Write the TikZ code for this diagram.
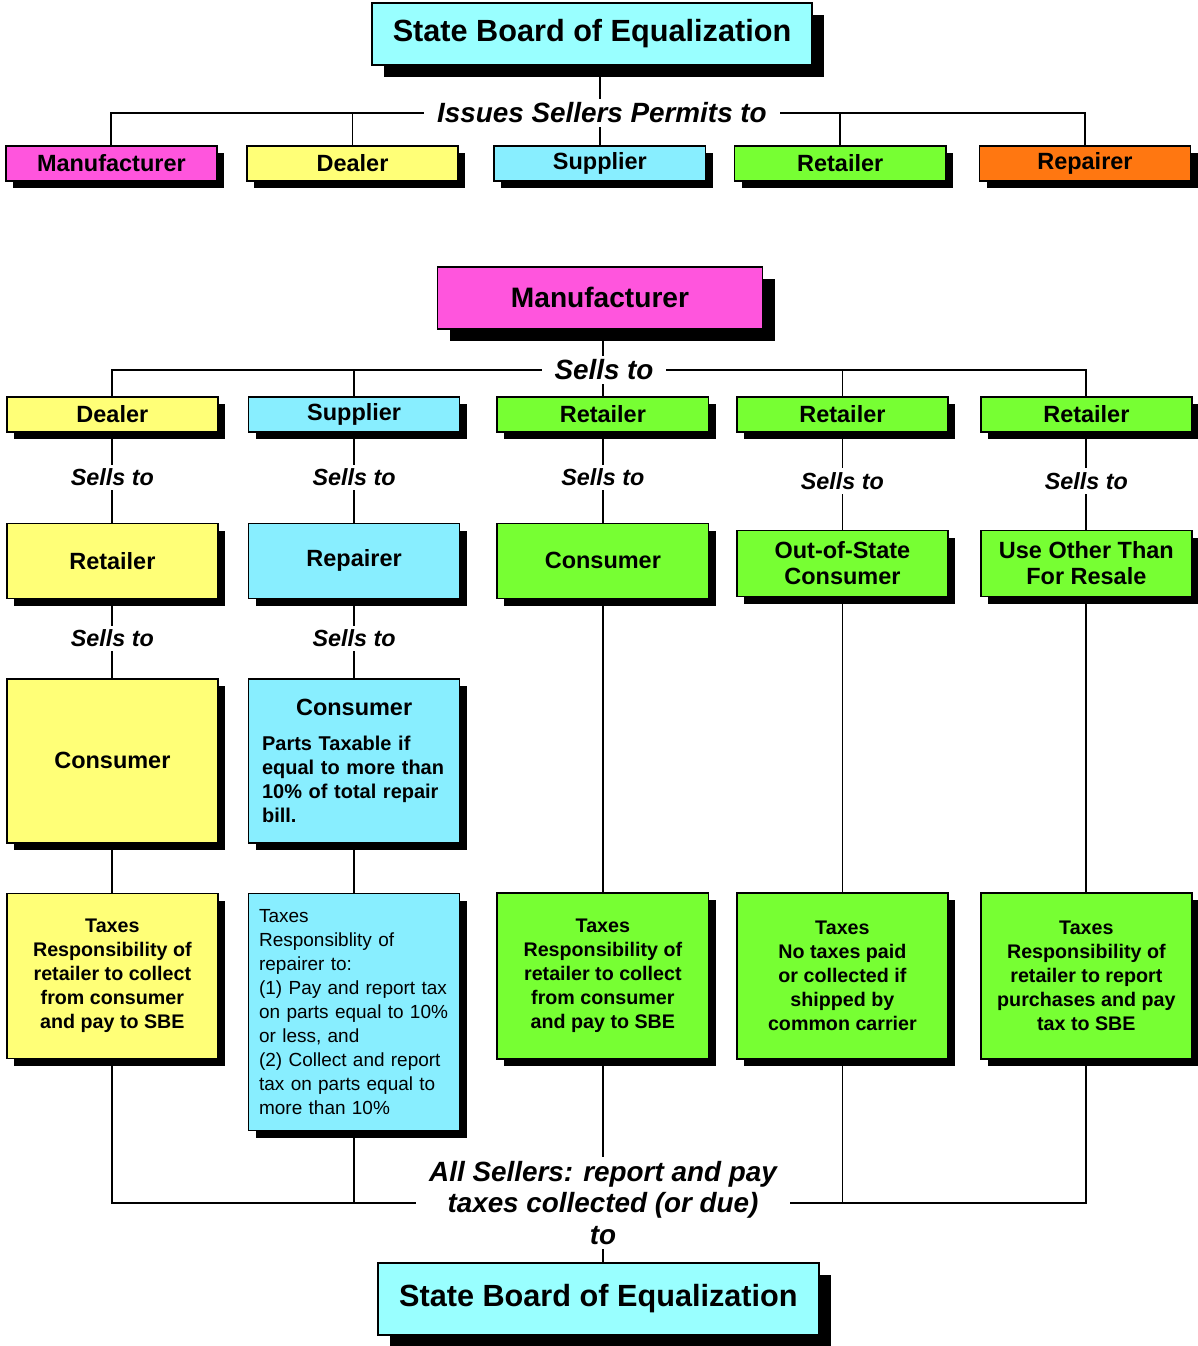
\documentclass[tikz,border=0pt]{standalone}
\usepackage{fontspec}
\setmainfont{Liberation Sans}
\usepackage{tikz}
\usetikzlibrary{positioning, shadows, backgrounds}
\definecolor{sbecyan}{HTML}{99FFFF}
\definecolor{mfgpink}{HTML}{FF55DD}
\definecolor{dlryellow}{HTML}{FFFF77}
\definecolor{supcyan}{HTML}{88EEFF}
\definecolor{retgreen}{HTML}{77FF33}
\definecolor{reporange}{HTML}{FF7711}
\tikzstyle{plain} = [rectangle, draw=black, line width=1.1pt, align=center, inner sep=2pt]
\tikzstyle{seller} = [plain, minimum width=5.28cm, font=\fontsize{16.7}{18.5}\selectfont\bfseries, drop shadow={shadow xshift=0.18cm, shadow yshift=-0.19cm, opacity=1, fill=black}]
\tikzstyle{board} = [plain, font=\fontsize{21.8}{24}\selectfont\bfseries, drop shadow={shadow xshift=0.3cm, shadow yshift=-0.3cm, opacity=1, fill=black}]
\tikzstyle{tax} = [seller, font=\fontsize{14}{17.1}\selectfont\bfseries]
\tikzstyle{tag} = [fill=white, inner xsep=3pt, inner ysep=3pt, font=\fontsize{16.6}{18}\selectfont\bfseries\itshape]
\tikzstyle{bigtag} = [tag, inner xsep=9pt, font=\fontsize{19.8}{22.4}\selectfont\bfseries\itshape]
\tikzstyle{wire} = [line width=1.3pt]

\begin{document}
\begin{tikzpicture}
\useasboundingbox (0,0) rectangle (29.925,-33.65);
% who gets a permit
\node (sbe) [board, fill=sbecyan, minimum width=11cm, minimum height=1.55cm, anchor=north] at (14.8,-0.05) {State Board of Equalization};
\node (issues) [bigtag] at (15.05,-2.825) {Issues Sellers Permits to};
\node (mfg1) [seller, fill=mfgpink, minimum height=0.875cm, anchor=north west] at (0.125,-3.625) {Manufacturer};
\node (dlr1) [seller, fill=dlryellow, minimum height=0.875cm, right=0.71cm of mfg1] {Dealer};
\node (sup1) [seller, fill=supcyan, minimum height=0.875cm, right=0.865cm of dlr1] {Supplier};
\node (ret1) [seller, fill=retgreen, minimum height=0.875cm, right=0.69cm of sup1] {Retailer};
\node (rep1) [seller, fill=reporange, minimum height=0.875cm, right=0.8cm of ret1] {Repairer};
% chain of sales
\node (mfg2) [board, fill=mfgpink, font=\fontsize{20}{22}\selectfont\bfseries, minimum width=8.125cm, minimum height=1.55cm, anchor=north] at (15.0,-6.65) {Manufacturer};
\node (sells0) [bigtag] at (15.1,-9.25) {Sells to};
\node (dlr2) [seller, fill=dlryellow, minimum height=0.875cm, anchor=north west] at (0.15,-9.9) {Dealer};
\node (sup2) [seller, fill=supcyan, minimum height=0.875cm, right=0.725cm of dlr2] {Supplier};
\node (ret2a) [seller, fill=retgreen, minimum height=0.875cm, right=0.9cm of sup2] {Retailer};
\node (ret2b) [seller, fill=retgreen, minimum height=0.875cm, right=0.67cm of ret2a] {Retailer};
\node (ret2c) [seller, fill=retgreen, minimum height=0.875cm, right=0.78cm of ret2b] {Retailer};
\node (ret3) [seller, fill=dlryellow, minimum height=1.875cm, below=2.25cm of dlr2] {Retailer};
\node (rep3) [seller, fill=supcyan, minimum height=1.875cm, below=2.25cm of sup2] {Repairer};
\node (con3) [seller, fill=retgreen, minimum height=1.875cm, below=2.25cm of ret2a] {Consumer};
\node (out3) [seller, fill=retgreen, minimum height=1.65cm, below=2.425cm of ret2b] {Out-of-State\\Consumer};
\node (use3) [seller, fill=retgreen, minimum height=1.65cm, below=2.425cm of ret2c] {Use Other Than\\For Resale};
\node (con4a) [seller, fill=dlryellow, minimum height=4.1cm, below=1.975cm of ret3] {Consumer};
\node (con4b) [seller, fill=supcyan, minimum height=4.1cm, text width=4.6cm, align=left, font=\fontsize{14.2}{17.1}\selectfont\bfseries, below=1.975cm of rep3] {\makebox[4.6cm]{\fontsize{16.7}{18.5}\selectfont Consumer}\\[8pt]Parts Taxable if\\equal to more than\\10\% of total repair\\bill.};
% who pays the tax
\node (tax1) [tax, fill=dlryellow, minimum height=4.125cm, below=1.225cm of con4a] {Taxes\\Responsibility of\\retailer to collect\\from consumer\\and pay to SBE};
\node (tax2) [tax, fill=supcyan, minimum height=5.925cm, text width=4.75cm, align=left, font=\fontsize{13.5}{17.1}\selectfont, below=1.225cm of con4b] {Taxes\\Responsiblity of\\repairer to:\\(1) Pay and report tax\\on parts equal to 10\%\\or less, and\\(2) Collect and report\\tax on parts equal to\\more than 10\%};
\node (tax3) [tax, fill=retgreen, minimum height=4.15cm, below=7.325cm of con3] {Taxes\\Responsibility of\\retailer to collect\\from consumer\\and pay to SBE};
\node (tax4) [tax, fill=retgreen, minimum height=4.15cm, below=7.375cm of out3] {Taxes\\No taxes paid\\or collected if\\shipped by\\common carrier};
\node (tax5) [tax, fill=retgreen, minimum height=4.15cm, below=7.375cm of use3] {Taxes\\Responsibility of\\retailer to report\\purchases and pay\\tax to SBE};
\node (allsell) [bigtag, align=center] at (15.075,-30.075) {All Sellers: report and pay\\taxes collected (or due)\\to};
\node (sbe2) [board, fill=sbecyan, minimum width=11.025cm, minimum height=1.8cm, anchor=north] at (14.96,-31.55) {State Board of Equalization};

\begin{scope}[on background layer]
\draw [wire] (sup1.north |- sbe.south) -- (sup1.north);
\draw [wire] (mfg1.north) |- (issues.west);
\draw [wire] (dlr1.north) |- (issues.west);
\draw [wire] (ret1.north) |- (issues.east);
\draw [wire] (rep1.north) |- (issues.east);
\draw [wire] (ret2a.north |- mfg2.south) -- (ret2a.north);
\draw [wire] (dlr2.north) |- (sells0.west);
\draw [wire] (sup2.north) |- (sells0.west);
\draw [wire] (ret2b.north) |- (sells0.east);
\draw [wire] (ret2c.north) |- (sells0.east);
\draw [wire] (dlr2) -- node [tag] {Sells to} (ret3);
\draw [wire] (sup2) -- node [tag] {Sells to} (rep3);
\draw [wire] (ret2a) -- node [tag] {Sells to} (con3);
\draw [wire] (ret2b) -- node [tag] {Sells to} (out3);
\draw [wire] (ret2c) -- node [tag] {Sells to} (use3);
\draw [wire] (ret3) -- node [tag] {Sells to} (con4a);
\draw [wire] (rep3) -- node [tag] {Sells to} (con4b);
\draw [wire] (con4a) -- (tax1);
\draw [wire] (con4b) -- (tax2);
\draw [wire] (con3) -- (tax3);
\draw [wire] (out3) -- (tax4);
\draw [wire] (use3) -- (tax5);
\draw [wire] (tax1.south) |- (allsell.west);
\draw [wire] (tax2.south) |- (allsell.west);
\draw [wire] (tax3.south) -- (tax3.south |- sbe2.north);
\draw [wire] (tax4.south) |- (allsell.east);
\draw [wire] (tax5.south) |- (allsell.east);
\end{scope}
\end{tikzpicture}
\end{document}
